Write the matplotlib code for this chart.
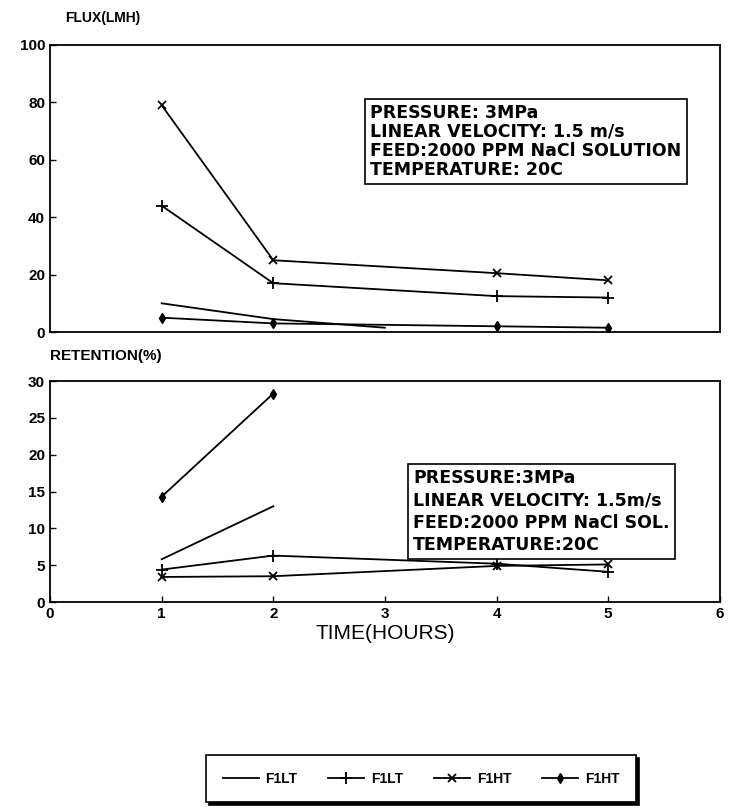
import matplotlib.pyplot as plt

plt.rcParams['font.family'] = ['Liberation Sans', 'DejaVu Sans']
plt.rcParams['font.weight'] = 'bold'

# time (hours)
t_full = [1, 2, 4, 5]
t_short = [1, 2]

# flux (LMH)
flux_plain_t = [1, 2, 3]
flux_plain = [10, 4.5, 1.5]
flux_plus = [44, 17, 12.5, 12]
flux_x = [79, 25, 20.5, 18]
flux_dia = [5, 3, 2, 1.5]

# retention (%)
ret_plain = [5.8, 13]
ret_plus = [4.4, 6.3, 5.2, 4.1]
ret_x = [3.4, 3.5, 4.9, 5.1]
ret_dia = [14.3, 28.3]

labels = ['F1LT', 'F1LT', 'F1HT', 'F1HT']

fig = plt.figure(figsize=(7.36, 8.11), dpi=100)
ax1 = fig.add_axes([0.068, 0.5906, 0.910, 0.354])
ax2 = fig.add_axes([0.068, 0.2577, 0.910, 0.2725])

lw = 1.3
# top panel
ax1.plot(flux_plain_t, flux_plain, color='k', lw=lw)
ax1.plot(t_full, flux_plus, color='k', lw=lw, marker='+', ms=8, mew=1.3)
ax1.plot(t_full, flux_x, color='k', lw=lw, marker='x', ms=6, mew=1.3)
ax1.plot(t_full, flux_dia, color='k', lw=lw, marker='d', ms=5)

# bottom panel
h1, = ax2.plot(t_short, ret_plain, color='k', lw=lw)
h2, = ax2.plot(t_full, ret_plus, color='k', lw=lw, marker='+', ms=8, mew=1.3)
h3, = ax2.plot(t_full, ret_x, color='k', lw=lw, marker='x', ms=6, mew=1.3)
h4, = ax2.plot(t_short, ret_dia, color='k', lw=lw, marker='d', ms=5)

for ax in (ax1, ax2):
    ax.set_xlim(0, 6)
    ax.tick_params(direction='in', length=4, labelsize=11, width=1)
    for s in ax.spines.values():
        s.set_linewidth(1.3)

ax1.set_ylim(0, 100)
ax1.set_yticks([0, 20, 40, 60, 80, 100])
ax1.set_xticks([])
ax2.set_ylim(0, 30)
ax2.set_yticks([0, 5, 10, 15, 20, 25, 30])
ax2.set_xticks([0, 1, 2, 3, 4, 5, 6])

fig.text(0.088, 0.978, 'FLUX(LMH)', fontsize=10, fontweight='bold', ha='left', va='center')
fig.text(0.068, 0.561, 'RETENTION(%)', fontsize=11, fontweight='bold', ha='left', va='center')
ax2.set_xlabel('TIME(HOURS)', fontsize=15, fontweight='normal', labelpad=2)

box = dict(boxstyle='square,pad=0.3', facecolor='white', edgecolor='k', lw=1.2)
ax1.text(0.478, 0.795,
         'PRESSURE: 3MPa\nLINEAR VELOCITY: 1.5 m/s\nFEED:2000 PPM NaCl SOLUTION\nTEMPERATURE: 20C',
         transform=ax1.transAxes, fontsize=12.5, fontweight='bold', va='top', ha='left',
         family=['DejaVu Sans'], linespacing=1.08, bbox=box)
ax2.text(0.542, 0.6,
         'PRESSURE:3MPa\nLINEAR VELOCITY: 1.5m/s\nFEED:2000 PPM NaCl SOL.\nTEMPERATURE:20C',
         transform=ax2.transAxes, fontsize=12.5, fontweight='bold', va='top', ha='left',
         family=['DejaVu Sans'], linespacing=1.3, bbox=box)

leg = fig.legend([h1, h2, h3, h4], labels, loc='center', bbox_to_anchor=(0.572, 0.040),
                 ncol=4, frameon=True, fancybox=False, shadow={'color': 'k', 'alpha': 1},
                 fontsize=10, handlelength=2.6, columnspacing=2.2, borderpad=1.2,
                 handletextpad=0.5, edgecolor='k')
leg.get_frame().set_linewidth(1.2)
for tx in leg.get_texts():
    tx.set_fontweight('bold')

fig.savefig('out.png', dpi=100)
